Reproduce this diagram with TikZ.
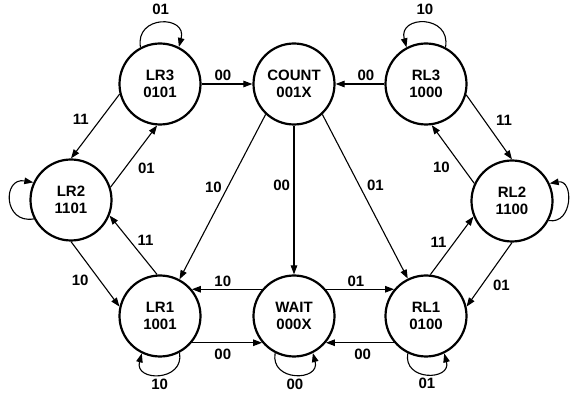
\documentclass[tikz,border=0pt]{standalone}
\usepackage{fontspec}
\setmainfont{Liberation Sans}
\usetikzlibrary{arrows.meta,positioning}

\begin{document}
\begin{tikzpicture}[x=1pt, y=1pt,
  state/.style={draw, circle, line width=2.2pt, minimum size=81pt, inner sep=0pt,
    align=center, font=\fontsize{15}{17}\selectfont\bfseries},
  trans/.style={line width=1.1pt, -{Triangle[length=9pt,width=6.5pt]}},
  lbl/.style={font=\fontsize{15}{15}\selectfont\bfseries, inner sep=2.5pt}]
\useasboundingbox (0,0) rectangle (570,396);

\node[state] (LR3) at (160,312) {LR3\\0101};
\node[state] (COUNT) at (294,312) {COUNT\\001X};
\node[state] (RL3) at (426,312) {RL3\\1000};
\node[state] (LR2) at (71,196) {LR2\\1101};
\node[state] (RL2) at (512,195) {RL2\\1100};
\node[state] (LR1) at (160,80) {LR1\\1001};
\node[state] (WAIT) at (294,80) {WAIT\\000X};
\node[state] (RL1) at (426,80) {RL1\\0100};

\draw[trans] (LR3.0) -- node[lbl, pos=0.42, above] {00} (COUNT.180);
\draw[trans] (RL3.180) -- node[lbl, pos=0.38, above] {00} (COUNT.0);
\draw[trans] (LR3.194) -- node[lbl, pos=0.39, left=9pt] {11} (LR2.90);
\draw[trans] (LR2.18) -- node[lbl, pos=0.31, right=10pt] {01} (LR3.266);
\draw[trans] (LR2.270) -- node[lbl, pos=0.59, left=8pt] {10} (LR1.167);
\draw[trans] (LR1.94) -- node[lbl, pos=0.58, right=5pt] {11} (LR2.338);
\draw[trans] (COUNT.227) -- node[lbl, pos=0.44, left=3pt] {10} (LR1.62);
\draw[trans] (COUNT.270) -- node[lbl, pos=0.4, left=1pt] {00} (WAIT.90);
\draw[trans] (COUNT.313) -- node[lbl, pos=0.43, right=5pt] {01} (RL1.116);
\draw[trans] (RL3.345) -- node[lbl, pos=0.39, right=9pt] {11} (RL2.90);
\draw[trans] (RL2.155) -- node[lbl, pos=0.27, left=10pt] {10} (RL3.278);
\draw[trans] (RL1.84) -- node[lbl, pos=0.56, left=5pt] {11} (RL2.202);
\draw[trans] (RL2.270) -- node[lbl, pos=0.66, right=8pt] {01} (RL1.13);
\draw[trans] (WAIT.140) -- node[lbl, pos=0.56, above] {10} (LR1.40);
\draw[trans] (LR1.-40) -- node[lbl, pos=0.44, below=3pt] {00} (WAIT.220);
\draw[trans] (WAIT.40) -- node[lbl, pos=0.44, above] {01} (RL1.140);
\draw[trans] (RL1.220) -- node[lbl, pos=0.46, below=3pt] {00} (WAIT.-40);

\draw[trans] (LR3.118) to[out=100,in=75,looseness=2.2] node[lbl, above=5pt] {01} (LR3.63);
\draw[trans] (RL3.62) to[out=80,in=105,looseness=2.2] node[lbl, above=5pt] {10} (RL3.118);
\draw[trans] (LR2.207) to[out=190,in=170,looseness=2.2] (LR2.155);
\draw[trans] (RL2.-28) to[out=-10,in=10,looseness=1.7] (RL2.25);
\draw[trans] (LR1.298) to[out=-80,in=-105,looseness=2] node[lbl, below=1pt] {10} (LR1.244);
\draw[trans] (WAIT.243) to[out=-100,in=-75,looseness=2] node[lbl, below=1pt] {00} (WAIT.297);
\draw[trans] (RL1.244) to[out=-100,in=-75,looseness=2] node[lbl, below=1pt] {01} (RL1.296);
\end{tikzpicture}
\end{document}
